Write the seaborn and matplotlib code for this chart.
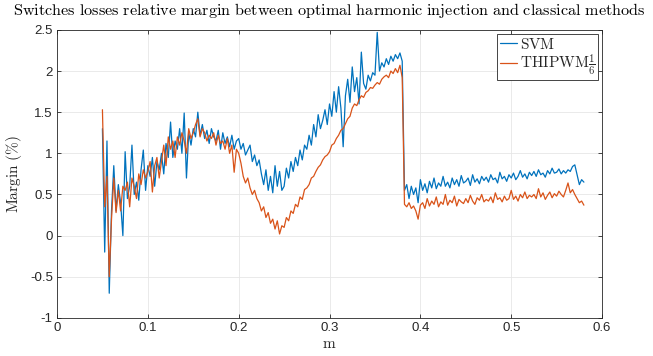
import numpy as np
import pandas as pd
import seaborn as sns
import matplotlib
matplotlib.use("Agg")
import matplotlib.pyplot as plt
from matplotlib.ticker import FuncFormatter

# ---------------- data ----------------
m_start, m_step = 0.050, 0.0025
svm = [
    1.30, -0.20, 1.15, -0.70, 0.30, 0.85, 0.30, 0.62, 0.40, 0.00,
    1.02, 0.45, 0.60, 1.10, 0.50, 0.65, 0.43, 0.80, 1.04, 0.55,
    0.85, 0.72, 0.95, 0.60, 0.90, 0.80, 1.00, 0.75, 1.12, 0.95,
    1.38, 0.95, 1.15, 1.05, 1.30, 1.00, 1.49, 0.70, 1.25, 1.10,
    1.30, 1.20, 1.50, 1.22, 1.35, 1.18, 1.28, 1.12, 1.30, 1.20,
    1.15, 1.28, 1.05, 1.25, 1.12, 1.20, 1.08, 1.22, 1.05, 1.15,
    1.18, 1.05, 1.12, 0.98, 1.04, 1.10, 0.90, 0.98, 0.85, 0.92,
    0.75, 0.62, 0.80, 0.55, 0.72, 0.52, 0.85, 0.60, 0.78, 0.55,
    0.60, 0.82, 0.70, 0.90, 0.78, 0.95, 0.85, 1.04, 0.92, 1.10,
    1.05, 1.22, 1.10, 1.35, 1.20, 1.47, 1.30, 1.40, 1.53, 1.35,
    1.60, 1.45, 1.75, 1.50, 1.81, 1.55, 1.08, 1.70, 1.90, 1.62,
    2.05, 1.75, 1.92, 1.60, 2.23, 1.85, 1.78, 1.95, 1.88, 1.98,
    1.95, 2.47, 2.00, 2.10, 2.05, 2.15, 2.08, 2.18, 2.12, 2.20,
    2.15, 2.22, 2.12, 0.55, 0.62, 0.45, 0.60, 0.50, 0.58, 0.40,
    0.68, 0.55, 0.63, 0.52, 0.66, 0.58, 0.70, 0.57, 0.64, 0.60,
    0.72, 0.60, 0.65, 0.58, 0.70, 0.62, 0.68, 0.60, 0.73, 0.64,
    0.66, 0.70, 0.61, 0.74, 0.65, 0.69, 0.63, 0.72, 0.67, 0.71,
    0.65, 0.74, 0.68, 0.70, 0.64, 0.77, 0.69, 0.72, 0.66, 0.74,
    0.70, 0.76, 0.68, 0.72, 0.79, 0.71, 0.75, 0.69, 0.77, 0.73,
    0.78, 0.72, 0.80, 0.74, 0.76, 0.71, 0.79, 0.75, 0.82, 0.76,
    0.77, 0.81, 0.75, 0.79, 0.76, 0.80, 0.78, 0.84, 0.86, 0.74,
    0.62, 0.68, 0.65,
]
thipwm = [
    1.53, 0.35, 0.72, -0.50, 0.20, 0.70, 0.28, 0.55, 0.30, 0.60,
    0.55, 0.65, 0.35, 0.70, 0.60, 0.45, 0.75, 0.62, 0.80, 0.70,
    0.78, 0.90, 0.53, 0.85, 0.95, 0.70, 0.90, 1.10, 0.85, 1.20,
    1.05, 1.15, 0.95, 1.20, 1.10, 1.25, 1.15, 1.00, 1.30, 1.18,
    1.25, 1.35, 1.42, 1.20, 1.30, 1.25, 1.15, 1.22, 1.18, 1.25,
    1.10, 1.22, 1.12, 1.15, 1.05, 1.18, 1.00, 1.10, 0.77, 1.05,
    1.00, 0.88, 0.72, 0.64, 0.70, 0.58, 0.50, 0.55, 0.45, 0.40,
    0.30, 0.35, 0.22, 0.28, 0.15, 0.20, 0.08, 0.18, 0.02, 0.12,
    0.10, 0.22, 0.18, 0.30, 0.27, 0.38, 0.35, 0.47, 0.44, 0.56,
    0.58, 0.62, 0.70, 0.72, 0.78, 0.83, 0.86, 0.92, 0.96, 0.98,
    1.02, 1.10, 1.12, 1.18, 1.22, 1.28, 1.30, 1.36, 1.42, 1.45,
    1.55, 1.60, 1.58, 1.65, 1.70, 1.68, 1.74, 1.76, 1.80, 1.79,
    1.83, 1.86, 1.84, 1.90, 1.93, 1.95, 1.92, 2.00, 1.97, 2.03,
    1.98, 2.07, 1.92, 0.38, 0.35, 0.40, 0.33, 0.36, 0.30, 0.20,
    0.37, 0.40, 0.33, 0.45, 0.36, 0.42, 0.38, 0.47, 0.35, 0.41,
    0.38, 0.50, 0.37, 0.43, 0.40, 0.48, 0.36, 0.44, 0.41, 0.39,
    0.45, 0.40, 0.49, 0.42, 0.38, 0.46, 0.43, 0.50, 0.41, 0.44,
    0.42, 0.47, 0.40, 0.52, 0.44, 0.46, 0.41, 0.48, 0.43, 0.45,
    0.55, 0.44, 0.48, 0.42, 0.50, 0.46, 0.53, 0.45, 0.49, 0.47,
    0.50, 0.45, 0.57, 0.47, 0.52, 0.44, 0.49, 0.53, 0.46, 0.51,
    0.48, 0.54, 0.50, 0.47, 0.55, 0.64, 0.52, 0.56, 0.50, 0.45,
    0.40, 0.42, 0.37,
]
m = np.round(m_start + m_step * np.arange(len(svm)), 4)

labels = [r"$\mathrm{SVM}$", r"$\mathrm{THIPWM}\frac{1}{6}$"]
colors = ["#0072BD", "#D95319"]
x_ticks = [0, 0.1, 0.2, 0.3, 0.4, 0.5, 0.6]
y_ticks = [-1, -0.5, 0, 0.5, 1, 1.5, 2, 2.5]

df = pd.concat([
    pd.DataFrame({"m": m, "margin": svm, "method": labels[0]}),
    pd.DataFrame({"m": m, "margin": thipwm, "method": labels[1]}),
])

# ---------------- styling ----------------
sns.set_theme(style="whitegrid")
plt.rcParams["font.family"] = ["Liberation Sans", "DejaVu Sans"]
plt.rcParams["mathtext.fontset"] = "cm"
plt.rcParams["axes.unicode_minus"] = False

fig = plt.figure(figsize=(6.53, 3.56), dpi=100)
ax = fig.add_axes([0.0873, 0.107, 0.8347, 0.809])

sns.lineplot(data=df, x="m", y="margin", hue="method", palette=colors,
             estimator=None, sort=False, linewidth=0.9, ax=ax)

ax.set_xlim(0, 0.6)
ax.set_ylim(-1, 2.5)
ax.set_xticks(x_ticks)
ax.set_yticks(y_ticks)
fmt = FuncFormatter(lambda v, p: "%g" % v)
ax.xaxis.set_major_formatter(fmt)
ax.yaxis.set_major_formatter(fmt)

ax.grid(True, color="#E6E6E6", linewidth=0.6)
ax.set_facecolor("white")
for s in ax.spines.values():
    s.set_visible(True)
    s.set_color("#262626")
    s.set_linewidth(0.6)
ax.tick_params(direction="in", length=3, width=0.6, color="#262626",
               labelsize=9.5, labelcolor="#262626", top=True, right=True,
               bottom=True, left=True, pad=3)

ax.set_title(r"$\mathrm{Switches\ losses\ relative\ margin\ between\ optimal\ harmonic\ injection\ and\ classical\ methods}$",
             fontsize=11.7, pad=11, color="black")
ax.set_xlabel(r"$\mathrm{m}$", fontsize=11, labelpad=2)
ax.set_ylabel(r"$\mathrm{Margin\ (\%)}$", fontsize=11, labelpad=4)

leg = ax.legend(loc="upper right", fontsize=11, frameon=True, fancybox=False,
                edgecolor="#262626", framealpha=1, handlelength=1.1,
                handletextpad=0.2, borderpad=0.2, labelspacing=0.05,
                borderaxespad=0.25)
leg.get_frame().set_linewidth(0.6)
leg.set_title(None)

fig.savefig("out.png", dpi=100)
